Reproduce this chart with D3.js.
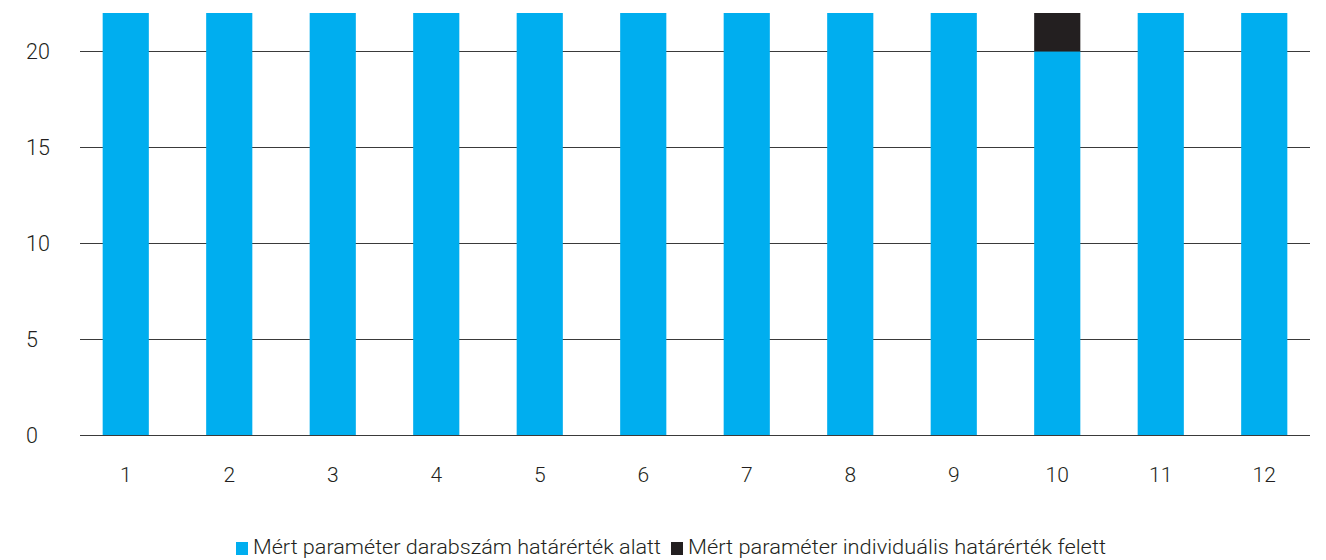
<!DOCTYPE html>
<html>
<head>
<meta charset="utf-8">
<script src="https://cdn.jsdelivr.net/npm/d3@7"></script>
<style>
  html, body { margin: 0; padding: 0; background: #fff; }
  svg { display: block; }
  text { font-family: Roboto, "Liberation Sans", sans-serif; fill: #231f20; }
</style>
</head>
<body>
<svg id="chart" width="1326" height="560"></svg>
<script>
const categories = ["1","2","3","4","5","6","7","8","9","10","11","12"];
const belowLimit = [22,22,22,22,22,22,22,22,22,20,22,22];
const aboveLimit = [0,0,0,0,0,0,0,0,0,2,0,0];
const yTicks = [0,5,10,15,20];
const seriesNames = ["Mért paraméter darabszám határérték alatt", "Mért paraméter individuális határérték felett"];
const colors = ["#00aeef", "#231f20"];

const svg = d3.select("#chart");
const x = d3.scaleBand().domain(categories).range([80, 1310]).paddingInner(0.554).paddingOuter(0.219);
const y = d3.scaleLinear().domain([0, 22]).range([435, 13]);

// gridlines
svg.append("g").selectAll("line").data(yTicks).join("line")
  .attr("x1", 80).attr("x2", 1310)
  .attr("y1", d => Math.round(y(d)) + 0.5).attr("y2", d => Math.round(y(d)) + 0.5)
  .attr("stroke", "#3a3a3a").attr("stroke-width", 1);

// y labels
svg.append("g").selectAll("text").data(yTicks).join("text")
  .attr("x", 26).attr("y", d => y(d) + 7.5)
  .attr("font-size", 21.5).attr("font-weight", 300).text(d => d);

// stacked bars
const data = categories.map((c, i) => ({c, a: belowLimit[i], b: aboveLimit[i]}));
const stack = d3.stack().keys(["a","b"])(data);
svg.append("g").selectAll("g").data(stack).join("g")
  .attr("fill", (d, i) => colors[i])
  .selectAll("rect").data(d => d.filter(p => p[1] - p[0] > 0)).join("rect")
  .attr("x", d => x(d.data.c)).attr("width", x.bandwidth())
  .attr("y", d => y(d[1])).attr("height", d => y(d[0]) - y(d[1]));

// redraw baseline on top
svg.append("line").attr("x1", 80).attr("x2", 1310)
  .attr("y1", Math.round(y(0)) + 0.5).attr("y2", Math.round(y(0)) + 0.5)
  .attr("stroke", "#3a3a3a").attr("stroke-width", 1);

// x labels
svg.append("g").selectAll("text").data(categories).join("text")
  .attr("x", d => x(d) + x.bandwidth()/2).attr("y", 481.5)
  .attr("text-anchor", "middle").attr("font-size", 21).attr("font-weight", 300).text(d => d);

// legend
const leg = svg.append("g");
const legX = [236, 671];
const legLen = [408, 418];
seriesNames.forEach((n, i) => {
  leg.append("rect").attr("x", legX[i]).attr("y", 542).attr("width", 12).attr("height", 13).attr("fill", colors[i]);
  leg.append("text").attr("x", legX[i] + 17).attr("y", 554).attr("font-size", 21).attr("font-weight", 300)
    .attr("textLength", legLen[i]).attr("lengthAdjust", "spacingAndGlyphs").text(n);
});
</script>
</body>
</html>
